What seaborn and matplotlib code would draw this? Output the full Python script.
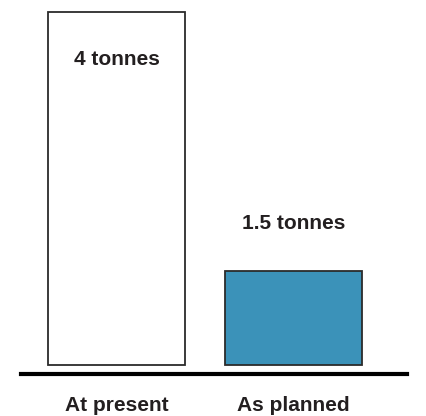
import matplotlib
matplotlib.use("Agg")
import matplotlib.pyplot as plt
import seaborn as sns
import pandas as pd

# data (bars are drawn as they appear, labels carry the stated values)
categories = ["At present", "As planned"]
bar_heights = [4.0, 1.065]
value_labels = ["4 tonnes", "1.5 tonnes"]
bar_colors = ["#ffffff", "#3b92b9"]

df = pd.DataFrame({"period": categories, "height": bar_heights})

sns.set_theme(style="white")
plt.rcParams["font.family"] = ["Liberation Sans", "DejaVu Sans"]

fig = plt.figure(figsize=(4.27, 4.16), dpi=100)
ax = fig.add_axes([21 / 427, 42 / 416, 386 / 427, 374 / 416])

sns.barplot(data=df, x="period", y="height", hue="period", palette=bar_colors,
            saturation=1, legend=False, width=0.77, edgecolor="#2b2b2b",
            linewidth=1.3, ax=ax)

ax.set_xlim(-0.54, 1.641)
ax.set_ylim(-0.102, 4.136)

# value labels: inside the tall bar, above the short one
ax.annotate(value_labels[0], (0, bar_heights[0]), xytext=(0, -34.5), textcoords="offset points",
            ha="center", va="center", fontsize=15, fontweight="bold", color="#231f20")
ax.annotate(value_labels[1], (1, bar_heights[1]), xytext=(0, 34.5), textcoords="offset points",
            ha="center", va="center", fontsize=15, fontweight="bold", color="#231f20")

for s in ["left", "top", "right"]:
    ax.spines[s].set_visible(False)
ax.spines["bottom"].set_linewidth(3)
ax.spines["bottom"].set_color("black")
ax.set_yticks([])
ax.set_xlabel("")
ax.set_ylabel("")
ax.tick_params(axis="x", length=0, pad=15.5, labelsize=15, labelcolor="#231f20")
for lbl in ax.get_xticklabels():
    lbl.set_fontweight("bold")

fig.savefig("out.png", dpi=100)
